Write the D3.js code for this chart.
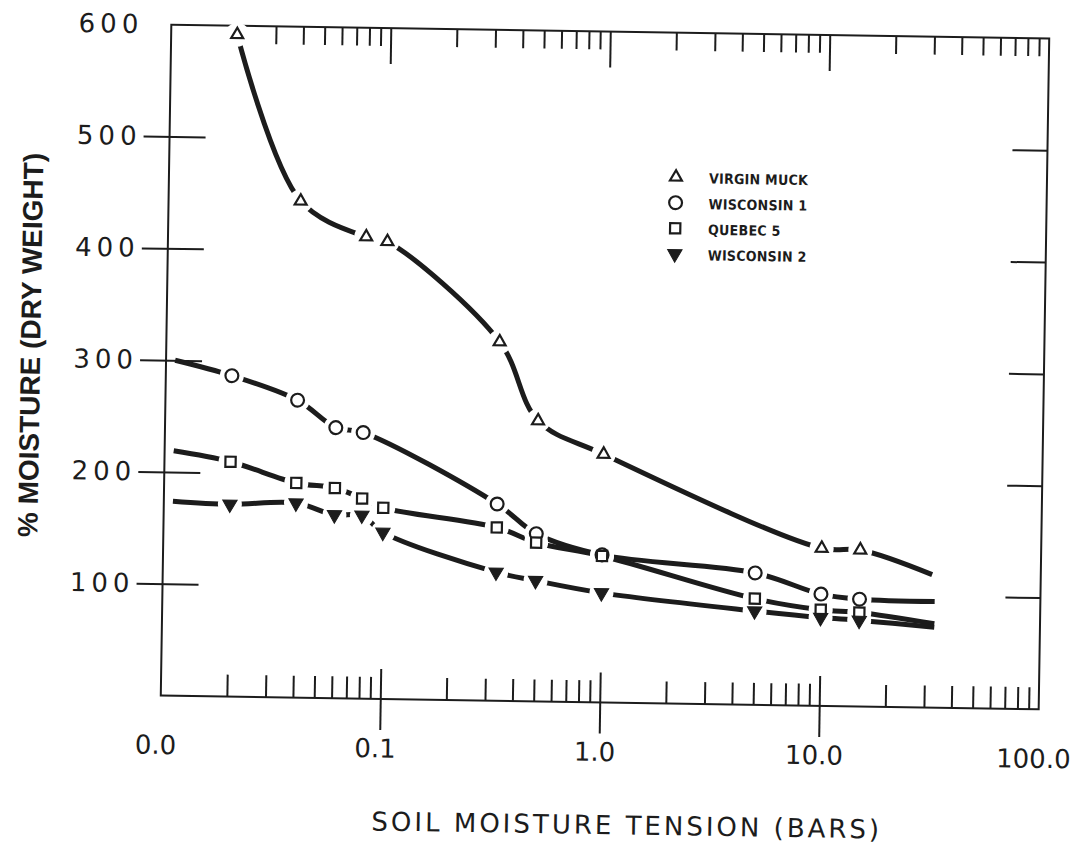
<!DOCTYPE html>
<html>
<head>
<meta charset="utf-8">
<script src="https://cdn.jsdelivr.net/npm/d3@7"></script>
<style>
  body { margin: 0; background: #fff; }
  svg { display: block; }
</style>
</head>
<body>
<script>
// axis labels
var xTickVals = [0.01, 0.1, 1, 10, 100];
var xTickLabels = ["0.0", "0.1", "1.0", "10.0", "100.0"];
var xMajorVals = [0.1, 1, 10];
var yTickVals = [100, 200, 300, 400, 500, 600];
var yInnerTicks = [100, 200, 300, 400, 500];

var seriesNames = ["VIRGIN MUCK", "WISCONSIN 1", "QUEBEC 5", "WISCONSIN 2"];

// measured points: tension (bars) / % moisture
var muckX = [0.02, 0.04, 0.08, 0.1, 0.33, 0.5, 1, 10, 15];
var muckY = [592, 444, 413, 409, 321, 251, 222, 141, 140];
var wis1X = [0.02, 0.04, 0.06, 0.08, 0.33, 0.5, 1, 5, 10, 15];
var wis1Y = [287, 266, 242, 238, 176, 150, 132, 118, 100, 96];
var queX = [0.02, 0.04, 0.06, 0.08, 0.1, 0.33, 0.5, 1, 5, 10, 15];
var queY = [210, 192, 188, 179, 171, 155, 142, 131, 95, 86, 84];
var wis2X = [0.02, 0.04, 0.06, 0.08, 0.1, 0.33, 0.5, 1, 5, 10, 15];
var wis2Y = [172, 174, 164, 164, 149, 115, 108, 98, 84, 79, 77];

// ends of the drawn curves (beyond the measured points)
var curveStartX = [null, 0.011, 0.011, 0.011];
var curveStartY = [null, 300, 219, 174];
var curveEndX = [32, 33, 33, 33];
var curveEndY = [119, 95, 75, 72];

var width = 1075, height = 843;
var mLeft = 166, mTop = 31.5, plotW = 878, plotH = 671;
var ink = "#1c1c1c";

var svg = d3.select("body").append("svg")
  .attr("width", width)
  .attr("height", height);

// the scan is a bit tilted
var page = svg.append("g").attr("transform", "rotate(0.9,605,367)");
var plot = page.append("g").attr("transform", "translate(" + mLeft + "," + mTop + ")");

var x = d3.scaleLog().domain([0.01, 100]).range([0, plotW]);
var y = d3.scaleLinear().domain([0, 600]).range([plotH, 0]);

var minorVals = x.ticks().filter(function(d) { return xTickVals.indexOf(d) < 0; });

function styleAxis(sel) {
  sel.select(".domain").remove();
  sel.selectAll(".tick line").attr("stroke", ink).attr("stroke-width", 2);
}

// bottom ticks
plot.append("g").attr("transform", "translate(0," + plotH + ")")
  .call(d3.axisBottom(x).tickValues(minorVals).tickSize(-22).tickFormat(""))
  .call(styleAxis);
plot.append("g").attr("transform", "translate(0," + plotH + ")")
  .call(d3.axisBottom(x).tickValues(xMajorVals).tickSize(31).tickFormat(""))
  .call(styleAxis)
  .selectAll(".tick line").attr("y1", -30);
var xLab = plot.append("g").attr("transform", "translate(0," + plotH + ")")
  .call(d3.axisBottom(x).tickValues(xTickVals).tickSize(0).tickPadding(40)
    .tickFormat(function(d, i) { return xTickLabels[i]; }));
xLab.select(".domain").remove();
xLab.selectAll("text").attr("fill", ink).attr("dx", -5)
  .style("font-family", "'DejaVu Sans', sans-serif").style("font-size", "26px");

// top ticks
plot.append("g")
  .call(d3.axisTop(x).tickValues(minorVals).tickSize(-18).tickFormat(""))
  .call(styleAxis);
plot.append("g")
  .call(d3.axisTop(x).tickValues(xMajorVals).tickSize(-36).tickFormat(""))
  .call(styleAxis);

// left ticks cross the frame, right ones point in
plot.append("g")
  .call(d3.axisLeft(y).tickValues(yInnerTicks).tickSize(26).tickFormat(""))
  .call(styleAxis)
  .selectAll(".tick line").attr("x1", 36);
plot.append("g").attr("transform", "translate(" + plotW + ",0)")
  .call(d3.axisRight(y).tickValues(yInnerTicks).tickSize(-35).tickFormat(""))
  .call(styleAxis);
var yLab = plot.append("g")
  .call(d3.axisLeft(y).tickValues(yTickVals).tickSize(0).tickPadding(28));
yLab.select(".domain").remove();
yLab.selectAll("text").attr("fill", ink)
  .style("font-family", "'DejaVu Sans', sans-serif").style("font-size", "26px")
  .style("letter-spacing", "5px");

// frame
plot.append("rect")
  .attr("x", 0).attr("y", 0).attr("width", plotW).attr("height", plotH)
  .attr("fill", "none").attr("stroke", ink).attr("stroke-width", 2);

// series
var allX = [muckX, wis1X, queX, wis2X];
var allY = [muckY, wis1Y, queY, wis2Y];
var symbolTypes = [d3.symbolTriangle, d3.symbolCircle, d3.symbolSquare, d3.symbolTriangle];
var symbolSizes = [62, 130, 105, 90];
var symbolFilled = [false, false, false, true];
var symbolTurn = [0, 0, 0, 180];

var line = d3.line()
  .x(function(d) { return x(d[0]); })
  .y(function(d) { return y(d[1]); })
  .curve(d3.curveCatmullRom.alpha(0.5));

for (var s = 0; s < 4; s++) {
  var pts = [];
  if (curveStartX[s] != null) pts.push([curveStartX[s], curveStartY[s]]);
  for (var i = 0; i < allX[s].length; i++) pts.push([allX[s][i], allY[s][i]]);
  pts.push([curveEndX[s], curveEndY[s]]);
  plot.append("path")
    .attr("d", line(pts))
    .attr("fill", "none")
    .attr("stroke", ink)
    .attr("stroke-width", 5);
}

// white gaps round every point, then the points
for (var s = 0; s < 4; s++) {
  plot.append("g").selectAll("circle")
    .data(d3.zip(allX[s], allY[s]))
    .join("circle")
    .attr("cx", function(d) { return x(d[0]); })
    .attr("cy", function(d) { return y(d[1]); })
    .attr("r", 12)
    .attr("fill", "#fff");
}

function drawSymbol(sel, s) {
  sel.attr("d", d3.symbol().type(symbolTypes[s]).size(symbolSizes[s]))
    .attr("fill", symbolFilled[s] ? ink : "#fff")
    .attr("stroke", ink)
    .attr("stroke-width", symbolFilled[s] ? 1 : 2.2);
}

for (var s = 0; s < 4; s++) {
  plot.append("g").selectAll("path")
    .data(d3.zip(allX[s], allY[s]))
    .join("path")
    .attr("transform", function(d) {
      return "translate(" + x(d[0]) + "," + y(d[1]) + ") rotate(" + symbolTurn[s] + ")";
    })
    .call(drawSymbol, s);
}

// legend
var legend = page.append("g").attr("transform", "translate(673,176)");
seriesNames.forEach(function(name, s) {
  var row = legend.append("g").attr("transform", "translate(0," + (s * 25.6) + ")");
  row.append("path")
    .attr("transform", "rotate(" + symbolTurn[s] + ")")
    .call(drawSymbol, s);
  row.append("text")
    .attr("x", 33).attr("y", 6)
    .attr("fill", ink)
    .style("font-family", "'Liberation Sans Narrow', 'DejaVu Sans Condensed', sans-serif")
    .style("font-size", "14px")
    .style("font-weight", "bold")
    .style("letter-spacing", "0.3px")
    .text(name);
});

// axis titles
page.append("text")
  .attr("transform", "translate(40,354) rotate(-90)")
  .attr("text-anchor", "middle")
  .attr("fill", ink)
  .style("font-family", "'Liberation Sans', sans-serif")
  .style("font-size", "28px")
  .style("font-weight", "bold")
  .text("% MOISTURE (DRY WEIGHT)");

page.append("text")
  .attr("x", 634).attr("y", 834)
  .attr("text-anchor", "middle")
  .attr("fill", ink)
  .style("font-family", "'DejaVu Sans', sans-serif")
  .style("font-size", "26px")
  .style("letter-spacing", "3px")
  .text("SOIL MOISTURE TENSION (BARS)");
</script>
</body>
</html>
